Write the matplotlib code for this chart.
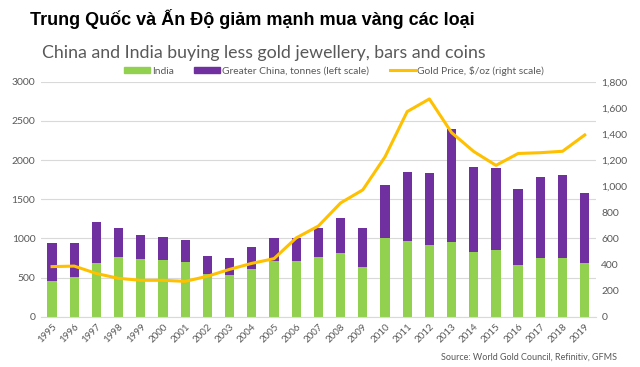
import matplotlib
matplotlib.use("Agg")
import matplotlib.pyplot as plt
import numpy as np
from matplotlib.lines import Line2D
from matplotlib.patches import Patch

years = [str(y) for y in range(1995, 2020)]
india = [460, 502, 681, 766, 732, 723, 698, 545, 532, 613, 706, 706, 766, 817, 638,
         1000, 966, 911, 957, 826, 851, 660, 753, 753, 681]
total = [945, 945, 1213, 1132, 1038, 1013, 979, 774, 753, 885, 1000, 1000, 1132, 1264, 1132,
         1681, 1843, 1830, 2404, 1915, 1902, 1634, 1779, 1813, 1574]
china = [t - i for t, i in zip(total, india)]
gold = [384, 388, 331, 294, 279, 279, 271, 310, 363, 409, 445, 604, 695, 872, 972,
        1225, 1572, 1669, 1411, 1266, 1160, 1251, 1257, 1268, 1393]
left_ticks = [0, 500, 1000, 1500, 2000, 2500, 3000]
right_ticks = [0, 200, 400, 600, 800, 1000, 1200, 1400, 1600, 1800]

GREEN = "#92D050"
PURPLE = "#7030A0"
GOLD = "#FFC000"
GRAY = "#595959"
FONT = "Lato"

fig = plt.figure(figsize=(6.4, 3.67), dpi=100)
ax = fig.add_axes([0.064, 0.137, 0.867, 0.640])
x = np.arange(len(years))
ax.bar(x, india, width=0.42, color=GREEN, zorder=2)
ax.bar(x, china, width=0.42, bottom=india, color=PURPLE, zorder=2)
ax.set_xlim(-0.5, len(years) - 0.5)
ax.set_ylim(0, 3000)
ax.set_yticks(left_ticks)
ax.set_yticklabels([str(v) for v in left_ticks], fontsize=7.5, color=GRAY, family=FONT)
ax.set_xticks(x)
ax.set_xticklabels(years, rotation=45, ha="right", rotation_mode="anchor",
                   fontsize=7, color=GRAY, family=FONT)
ax.tick_params(axis="both", length=0, pad=4)
ax.grid(axis="y", color="#D9D9D9", lw=0.8, zorder=0)
for s in ["top", "right", "left"]:
    ax.spines[s].set_visible(False)
ax.spines["bottom"].set_color("#D9D9D9")

ax2 = ax.twinx()
ax2.plot(x, gold, color=GOLD, lw=2.2, zorder=3)
ax2.set_ylim(0, 1800)
ax2.set_yticks(right_ticks)
ax2.set_yticklabels([f"{v:,}" for v in right_ticks], fontsize=7.5, color=GRAY, family=FONT)
ax2.tick_params(axis="y", length=0, pad=4)
for s in ax2.spines.values():
    s.set_visible(False)

handles = [Patch(color=GREEN, label="India"),
           Patch(color=PURPLE, label="Greater China, tonnes (left scale)"),
           Line2D([0], [0], color=GOLD, lw=2.2, label="Gold Price, $/oz (right scale)")]
fig.legend(handles=handles, loc="center", bbox_to_anchor=(0.522, 0.807), ncol=3,
           frameon=False, prop={"family": FONT, "size": 7.4}, labelcolor=GRAY,
           handlelength=2.5, handleheight=0.55, columnspacing=2.0, handletextpad=0.2)

fig.text(0.395, 0.948, "Trung Quốc và Ấn Độ giảm mạnh mua vàng các loại",
         ha="center", va="center", fontsize=13.0, fontweight="bold",
         family="Liberation Sans", color="black")
fig.text(0.412, 0.856, "China and India buying less gold jewellery, bars and coins",
         ha="center", va="center", fontsize=12.8, color=GRAY, family=FONT)
fig.text(0.964, 0.027, "Source: World Gold Council, Refinitiv, GFMS",
         ha="right", va="center", fontsize=6.5, color=GRAY, family=FONT)

fig.savefig("out.png", dpi=100)
